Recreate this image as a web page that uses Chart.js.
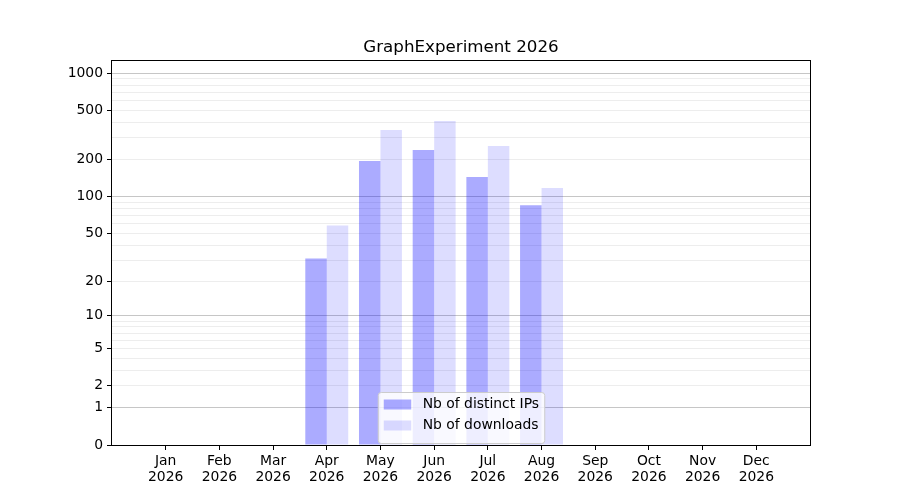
<!DOCTYPE html>
<html>
<head>
<meta charset="utf-8">
<title>GraphExperiment 2026</title>
<script src="https://cdn.jsdelivr.net/npm/chart.js@4.4.1/dist/chart.umd.min.js"></script>
<style>
  html, body { margin: 0; padding: 0; background: #fff; }
  #wrap { width: 900px; height: 500px; }
</style>
</head>
<body>
<div id="wrap"><canvas id="chart" width="900" height="500"></canvas></div>
<script>
const months = ["Jan", "Feb", "Mar", "Apr", "May", "Jun", "Jul", "Aug", "Sep", "Oct", "Nov", "Dec"];
const year = "2026";
const distinctIps = [0, 0, 0, 31, 194, 238, 144, 85, 0, 0, 0, 0];
const downloads = [0, 0, 0, 58, 346, 409, 257, 117, 0, 0, 0, 0];

// labelled y ticks, unlabelled minor grid lines, and the darker decade lines
const yTickLabels = [0, 1, 2, 5, 10, 20, 50, 100, 200, 500, 1000];
const yMinorTicks = [3, 4, 6, 7, 8, 9, 30, 40, 60, 70, 80, 90, 300, 400, 600, 700, 800, 900];
const yDecades = [1, 10, 100, 1000];
const yMax = 1249;

const ipColor = "rgba(0, 0, 255, 0.33)";
const dlColor = "rgba(0, 0, 255, 0.135)";
const font = "DejaVu Sans";

// y axis that maps v -> log10(1 + v), so 0 can sit on the bottom edge
class Log1pScale extends Chart.Scale {
  static id = "log1p";
  static defaults = {};

  parse(raw, index) {
    const v = Chart.LinearScale.prototype.parse.apply(this, [raw, index]);
    return isFinite(v) && v >= 0 ? v : null;
  }

  determineDataLimits() {
    this.min = this.options.min ?? 0;
    this.max = this.options.max ?? this.getMinMax(true).max;
  }

  buildTicks() {
    return [...yTickLabels, ...yMinorTicks]
      .filter((v) => v >= this.min && v <= this.max)
      .sort((a, b) => a - b)
      .map((v) => ({ value: v }));
  }

  configure() {
    super.configure();
    this._start = Math.log10(1 + this.min);
    this._range = Math.log10(1 + this.max) - this._start;
  }

  getPixelForValue(value) {
    const v = value == null || !isFinite(value) ? this.min : value;
    return this.getPixelForDecimal((Math.log10(1 + v) - this._start) / this._range);
  }

  getValueForPixel(pixel) {
    return Math.pow(10, this._start + this.getDecimalForPixel(pixel) * this._range) - 1;
  }
}
Chart.register(Log1pScale);

// matplotlib style frame + legend drawn inside the plot area
const framePlugin = {
  id: "frame",
  afterDatasetsDraw(chart) {
    const { ctx, chartArea: a } = chart;
    ctx.save();

    // legend
    const labels = chart.data.datasets.map((d) => d.label);
    const colors = chart.data.datasets.map((d) => d.backgroundColor);
    ctx.font = `13.9px "${font}"`;
    const textW = Math.max(...labels.map((l) => ctx.measureText(l).width));
    const w = 5.6 + 27.8 + 11.1 + textW + 5.6;
    const h = 51;
    const left = (a.left + a.right) / 2 - w / 2;
    const top = a.bottom - 2 - h;

    ctx.beginPath();
    ctx.roundRect(left + 0.5, top + 0.5, w, h, 3);
    ctx.fillStyle = "rgba(255, 255, 255, 0.8)";
    ctx.fill();
    ctx.strokeStyle = "#cccccc";
    ctx.lineWidth = 1;
    ctx.stroke();

    labels.forEach((label, i) => {
      const cy = top + 12.5 + i * 21;
      ctx.fillStyle = colors[i];
      ctx.fillRect(left + 6, cy - 5, 27.5, 10);
      ctx.fillStyle = "#000";
      ctx.textBaseline = "middle";
      ctx.textAlign = "left";
      ctx.fillText(label, left + 6 + 27.8 + 11.1, cy);
    });

    // axes box
    ctx.strokeStyle = "#000";
    ctx.lineWidth = 1;
    ctx.strokeRect(Math.round(a.left) - 0.5, Math.round(a.top) - 0.5,
      Math.round(a.right - a.left) + 1, Math.round(a.bottom - a.top) + 1);
    ctx.restore();
  },
};

const ctx = document.getElementById("chart").getContext("2d");
new Chart(ctx, {
  type: "bar",
  data: {
    datasets: [
      {
        label: "Nb of distinct IPs",
        data: distinctIps.map((v, i) => ({ x: i, y: v })),
        backgroundColor: ipColor,
        borderWidth: 0,
        inflateAmount: 0,
      },
      {
        label: "Nb of downloads",
        data: downloads.map((v, i) => ({ x: i, y: v })),
        backgroundColor: dlColor,
        borderWidth: 0,
        inflateAmount: 0,
      },
    ],
  },
  options: {
    responsive: false,
    animation: false,
    devicePixelRatio: 1,
    layout: { padding: { left: 0, right: 90, top: 0, bottom: 0 } },
    datasets: { bar: { categoryPercentage: 0.8, barPercentage: 1.0 } },
    plugins: {
      legend: { display: false },
      tooltip: { enabled: true },
      title: {
        display: true,
        text: "GraphExperiment 2026",
        fullSize: false,
        color: "#000",
        font: { family: font, size: 16.7, weight: "normal", lineHeight: 1.2 },
        padding: { top: 38, bottom: 3 },
      },
    },
    scales: {
      x: {
        type: "linear",
        min: -1,
        max: 12,
        offset: false,
        afterBuildTicks: (scale) => {
          scale.ticks = months.map((m, i) => ({ value: i }));
        },
        afterFit: (scale) => {
          scale.height = 55;
        },
        border: { display: false },
        grid: { offset: false, drawOnChartArea: false, drawTicks: true, tickLength: 5, tickColor: "#000" },
        ticks: {
          autoSkip: false,
          maxRotation: 0,
          padding: 3,
          color: "#000",
          font: { family: font, size: 13.9, lineHeight: 1.15 },
          callback: (v) => [months[v], year],
        },
      },
      y: {
        type: "log1p",
        min: 0,
        max: yMax,
        afterFit: (scale) => {
          scale.width = 112;
        },
        border: { display: false },
        grid: {
          drawTicks: true,
          tickLength: 5,
          color: (c) => (c.tick && yDecades.includes(c.tick.value) ? "#c6c6c6" : "#ededed"),
          tickColor: (c) => (c.tick && yTickLabels.includes(c.tick.value) ? "#000" : "rgba(0,0,0,0)"),
        },
        ticks: {
          autoSkip: false,
          padding: 4,
          color: "#000",
          font: { family: font, size: 13.9 },
          callback: (v) => (yTickLabels.includes(v) ? String(v) : ""),
        },
      },
    },
  },
  plugins: [framePlugin],
});
</script>
</body>
</html>
